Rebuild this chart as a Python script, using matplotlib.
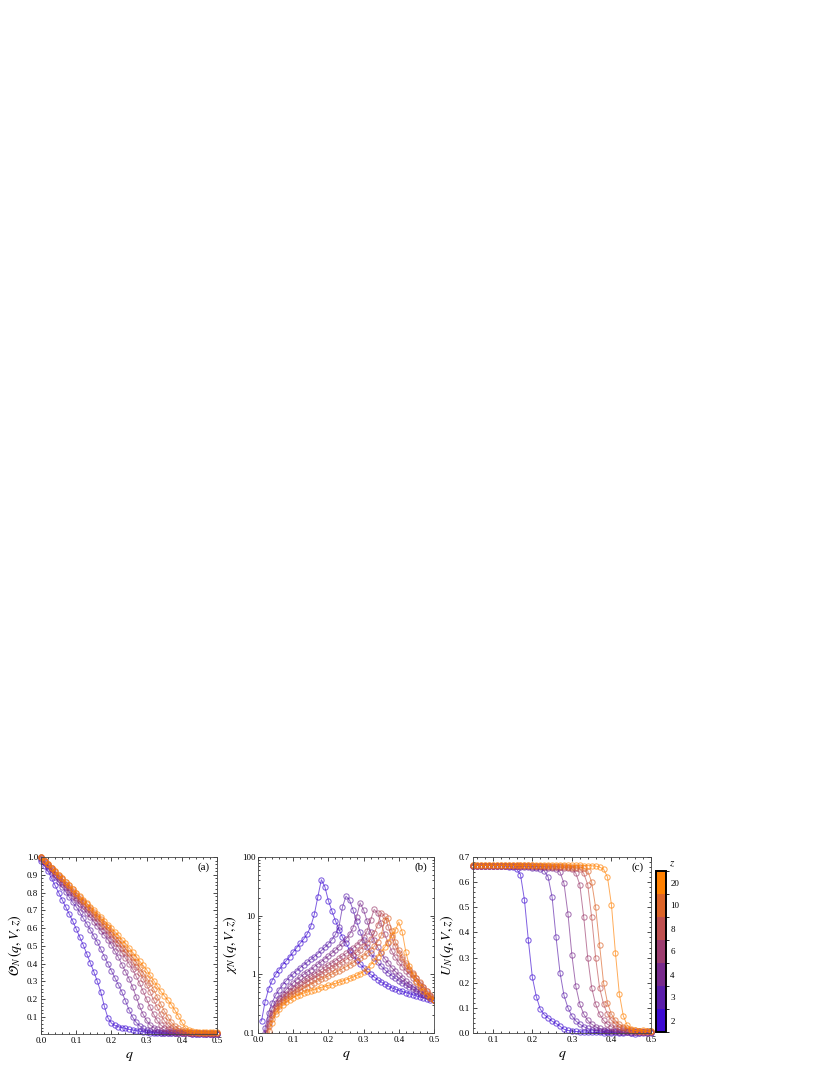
import numpy as np
import matplotlib
matplotlib.use('Agg')
import matplotlib.pyplot as plt
from matplotlib.colors import ListedColormap, BoundaryNorm
from matplotlib.cm import ScalarMappable
from matplotlib.ticker import MultipleLocator, LogLocator, NullFormatter, FixedLocator, FixedFormatter

plt.rcParams['font.family'] = ['Liberation Serif', 'DejaVu Serif']
plt.rcParams['mathtext.fontset'] = 'stix'

z_values = [2, 3, 4, 6, 8, 10, 20]
z_colors = ['#3c0ad2', '#5a1eaa', '#782a8c', '#9c3c6e', '#be5050', '#dc6428', '#ff8000']

# q grids
q_a = [0.00, 0.01, 0.02, 0.03, 0.04, 0.05, 0.06, 0.07, 0.08, 0.09,
       0.10, 0.11, 0.12, 0.13, 0.14, 0.15, 0.16, 0.17, 0.18, 0.19,
       0.20, 0.21, 0.22, 0.23, 0.24, 0.25, 0.26, 0.27, 0.28, 0.29,
       0.30, 0.31, 0.32, 0.33, 0.34, 0.35, 0.36, 0.37, 0.38, 0.39,
       0.40, 0.41, 0.42, 0.43, 0.44, 0.45, 0.46, 0.47, 0.48, 0.49, 0.50]
q_b = q_a[1:]
q_c = q_a[5:]

# (a) order parameter
op_z2 = [0.98, 0.95, 0.92, 0.88, 0.84, 0.80, 0.76, 0.72, 0.68, 0.64,
         0.595, 0.55, 0.505, 0.455, 0.405, 0.355, 0.30, 0.24, 0.16, 0.095,
         0.065, 0.052, 0.045, 0.04, 0.035, 0.03, 0.027, 0.023, 0.02, 0.017,
         0.014, 0.012, 0.011, 0.010, 0.009, 0.009, 0.008, 0.008, 0.008, 0.007,
         0.007, 0.007, 0.007, 0.006, 0.006, 0.006, 0.006, 0.006, 0.005, 0.005, 0.005]
op_z3 = [0.99, 0.965, 0.94, 0.915, 0.885, 0.86, 0.83, 0.805, 0.775, 0.745,
         0.72, 0.69, 0.655, 0.625, 0.59, 0.555, 0.52, 0.48, 0.44, 0.40,
         0.36, 0.32, 0.28, 0.24, 0.19, 0.14, 0.10, 0.07, 0.05, 0.035,
         0.025, 0.02, 0.016, 0.013, 0.011, 0.010, 0.009, 0.009, 0.008, 0.008,
         0.007, 0.007, 0.007, 0.006, 0.006, 0.006, 0.006, 0.005, 0.005, 0.005, 0.005]
op_z4 = [0.995, 0.97, 0.95, 0.925, 0.90, 0.875, 0.85, 0.83, 0.805, 0.78,
         0.76, 0.735, 0.71, 0.685, 0.66, 0.635, 0.61, 0.585, 0.56, 0.535,
         0.505, 0.47, 0.435, 0.395, 0.355, 0.315, 0.27, 0.215, 0.16, 0.115,
         0.08, 0.055, 0.04, 0.03, 0.023, 0.018, 0.015, 0.013, 0.011, 0.010,
         0.009, 0.009, 0.008, 0.008, 0.007, 0.007, 0.007, 0.006, 0.006, 0.006, 0.006]
op_z6 = [1.0, 0.975, 0.955, 0.93, 0.905, 0.885, 0.86, 0.84, 0.815, 0.795,
         0.77, 0.75, 0.725, 0.705, 0.68, 0.66, 0.635, 0.61, 0.59, 0.565,
         0.54, 0.515, 0.49, 0.46, 0.43, 0.40, 0.37, 0.33, 0.29, 0.245,
         0.20, 0.155, 0.115, 0.08, 0.055, 0.04, 0.03, 0.023, 0.018, 0.015,
         0.013, 0.012, 0.011, 0.010, 0.010, 0.009, 0.009, 0.008, 0.008, 0.008, 0.008]
op_z8 = [1.0, 0.98, 0.96, 0.94, 0.915, 0.895, 0.875, 0.85, 0.83, 0.81,
         0.785, 0.765, 0.745, 0.72, 0.70, 0.68, 0.655, 0.635, 0.61, 0.59,
         0.565, 0.54, 0.515, 0.49, 0.465, 0.44, 0.41, 0.38, 0.35, 0.315,
         0.28, 0.24, 0.195, 0.155, 0.115, 0.08, 0.055, 0.04, 0.03, 0.023,
         0.018, 0.015, 0.013, 0.012, 0.011, 0.011, 0.010, 0.010, 0.010, 0.009, 0.009]
op_z10 = [1.0, 0.98, 0.96, 0.94, 0.92, 0.90, 0.88, 0.86, 0.84, 0.82,
          0.795, 0.775, 0.755, 0.735, 0.715, 0.69, 0.67, 0.65, 0.625, 0.605,
          0.58, 0.555, 0.535, 0.51, 0.485, 0.46, 0.435, 0.41, 0.38, 0.35,
          0.32, 0.29, 0.255, 0.215, 0.175, 0.135, 0.10, 0.07, 0.05, 0.035,
          0.027, 0.021, 0.017, 0.015, 0.013, 0.012, 0.012, 0.011, 0.011, 0.010, 0.010]
op_z20 = [1.0, 0.98, 0.96, 0.94, 0.92, 0.90, 0.88, 0.86, 0.84, 0.82,
          0.80, 0.78, 0.76, 0.74, 0.72, 0.70, 0.68, 0.66, 0.64, 0.62,
          0.60, 0.58, 0.56, 0.535, 0.515, 0.49, 0.465, 0.44, 0.415, 0.39,
          0.365, 0.335, 0.305, 0.275, 0.245, 0.22, 0.195, 0.17, 0.14, 0.105,
          0.07, 0.04, 0.025, 0.019, 0.016, 0.015, 0.015, 0.015, 0.015, 0.015, 0.015]

# (b) susceptibility, q = 0.01 .. 0.50
chi_z2 = [0.16, 0.34, 0.56, 0.78, 1.0, 1.2, 1.45, 1.7, 2.0, 2.4,
          2.85, 3.4, 4.0, 4.9, 6.6, 10.5, 21, 41, 31, 18,
          12, 8.2, 5.8, 4.3, 3.4, 2.6, 2.1, 1.75, 1.5, 1.3,
          1.12, 1.0, 0.9, 0.81, 0.74, 0.68, 0.63, 0.59, 0.56, 0.53,
          0.51, 0.49, 0.47, 0.45, 0.43, 0.41, 0.40, 0.385, 0.37, 0.36]
chi_z3 = [0.05, 0.12, 0.22, 0.33, 0.44, 0.55, 0.66, 0.78, 0.9, 1.02,
          1.15, 1.3, 1.45, 1.62, 1.8, 2.0, 2.25, 2.55, 2.9, 3.3,
          3.9, 4.8, 6.5, 14, 21.5, 18.5, 12.5, 8.0, 5.3, 3.8,
          2.9, 2.3, 1.9, 1.6, 1.38, 1.2, 1.06, 0.95, 0.86, 0.78,
          0.71, 0.65, 0.6, 0.56, 0.52, 0.48, 0.45, 0.42, 0.39, 0.37]
chi_z4 = [0.04, 0.10, 0.17, 0.26, 0.33, 0.40, 0.47, 0.55, 0.63, 0.72,
          0.81, 0.90, 1.0, 1.1, 1.2, 1.35, 1.5, 1.65, 1.85, 2.05,
          2.3, 2.6, 2.95, 3.4, 4.0, 4.8, 6.2, 9.5, 16.5, 12.5,
          8.0, 5.3, 3.8, 2.9, 2.3, 1.85, 1.55, 1.3, 1.12, 0.98,
          0.87, 0.77, 0.69, 0.62, 0.56, 0.51, 0.47, 0.43, 0.40, 0.37]
chi_z6 = [0.03, 0.08, 0.15, 0.22, 0.29, 0.35, 0.41, 0.47, 0.53, 0.59,
          0.65, 0.72, 0.79, 0.86, 0.94, 1.02, 1.11, 1.21, 1.32, 1.44,
          1.57, 1.72, 1.88, 2.06, 2.27, 2.5, 2.8, 3.15, 3.6, 4.3,
          5.5, 8.5, 12.8, 11.0, 7.5, 4.8, 3.4, 2.5, 1.95, 1.6,
          1.35, 1.15, 1.0, 0.87, 0.76, 0.66, 0.57, 0.49, 0.42, 0.37]
chi_z8 = [0.03, 0.07, 0.13, 0.20, 0.27, 0.32, 0.37, 0.42, 0.47, 0.52,
          0.57, 0.62, 0.68, 0.74, 0.80, 0.86, 0.93, 1.0, 1.08, 1.17,
          1.27, 1.38, 1.5, 1.63, 1.78, 1.95, 2.15, 2.38, 2.65, 3.0,
          3.4, 4.0, 5.0, 7.0, 11.2, 9.8, 6.5, 4.3, 3.0, 2.3,
          1.8, 1.45, 1.2, 1.0, 0.85, 0.72, 0.61, 0.51, 0.43, 0.37]
chi_z10 = [0.02, 0.06, 0.11, 0.17, 0.24, 0.29, 0.34, 0.38, 0.42, 0.46,
           0.50, 0.54, 0.58, 0.62, 0.67, 0.72, 0.77, 0.82, 0.88, 0.94,
           1.01, 1.08, 1.16, 1.25, 1.35, 1.46, 1.58, 1.72, 1.88, 2.06,
           2.3, 2.6, 3.0, 3.6, 4.6, 8.5, 9.0, 5.5, 3.6, 2.6,
           1.95, 1.55, 1.25, 1.05, 0.88, 0.74, 0.62, 0.52, 0.44, 0.37]
chi_z20 = [0.01, 0.05, 0.09, 0.15, 0.21, 0.26, 0.30, 0.34, 0.37, 0.40,
           0.43, 0.45, 0.48, 0.50, 0.53, 0.55, 0.57, 0.60, 0.62, 0.65,
           0.67, 0.70, 0.73, 0.77, 0.81, 0.85, 0.90, 0.96, 1.03, 1.11,
           1.25, 1.45, 1.7, 2.0, 2.4, 2.9, 3.6, 4.6, 5.6, 7.8,
           5.2, 2.4, 1.4, 0.98, 0.74, 0.60, 0.51, 0.45, 0.40, 0.37]

# (c) Binder cumulant, q = 0.05 .. 0.50
u_z2 = [0.666, 0.666, 0.666, 0.666, 0.666, 0.665, 0.665, 0.665, 0.664, 0.662,
        0.659, 0.652, 0.630, 0.530, 0.368, 0.222, 0.145, 0.095, 0.073, 0.060,
        0.047, 0.038, 0.027, 0.015, 0.010, 0.008, 0.006, 0.005, 0.004, 0.003,
        0.003, 0.002, 0.002, 0.001, 0.002, 0.001, 0.002, 0.001, 0.000, 0.002,
        0.001, -0.002, 0.003, 0.000, 0.002, 0.001]
u_z3 = [0.666, 0.666, 0.666, 0.666, 0.666, 0.666, 0.666, 0.666, 0.665, 0.665,
        0.664, 0.663, 0.662, 0.661, 0.660, 0.658, 0.656, 0.653, 0.645, 0.620,
        0.540, 0.380, 0.240, 0.150, 0.100, 0.068, 0.048, 0.035, 0.025, 0.018,
        0.013, 0.010, 0.008, 0.006, 0.005, 0.004, 0.003, 0.003, 0.002, 0.002,
        0.001, 0.003, 0.000, 0.002, -0.001, 0.002]
u_z4 = [0.666, 0.666, 0.666, 0.666, 0.666, 0.666, 0.666, 0.666, 0.666, 0.666,
        0.665, 0.665, 0.664, 0.664, 0.663, 0.662, 0.661, 0.660, 0.659, 0.658,
        0.657, 0.654, 0.640, 0.595, 0.475, 0.310, 0.185, 0.115, 0.075, 0.050,
        0.035, 0.025, 0.018, 0.013, 0.010, 0.008, 0.006, 0.005, 0.004, 0.003,
        0.002, 0.004, 0.001, 0.003, 0.000, 0.002]
u_z6 = [0.666, 0.666, 0.666, 0.666, 0.666, 0.666, 0.666, 0.666, 0.666, 0.666,
        0.666, 0.666, 0.665, 0.665, 0.664, 0.664, 0.663, 0.663, 0.662, 0.661,
        0.660, 0.660, 0.659, 0.658, 0.657, 0.654, 0.635, 0.590, 0.460, 0.300,
        0.180, 0.115, 0.075, 0.050, 0.035, 0.025, 0.018, 0.013, 0.010, 0.008,
        0.006, 0.004, 0.006, 0.002, 0.004, 0.003]
u_z8 = [0.666, 0.666, 0.666, 0.666, 0.666, 0.666, 0.666, 0.666, 0.666, 0.666,
        0.666, 0.666, 0.666, 0.666, 0.665, 0.665, 0.664, 0.664, 0.663, 0.663,
        0.662, 0.662, 0.661, 0.660, 0.659, 0.658, 0.657, 0.654, 0.635, 0.590,
        0.460, 0.300, 0.180, 0.115, 0.075, 0.050, 0.035, 0.025, 0.018, 0.013,
        0.010, 0.007, 0.009, 0.004, 0.006, 0.004]
u_z10 = [0.667, 0.667, 0.667, 0.667, 0.667, 0.667, 0.667, 0.667, 0.667, 0.667,
         0.667, 0.667, 0.667, 0.667, 0.667, 0.667, 0.666, 0.666, 0.665, 0.665,
         0.664, 0.664, 0.663, 0.663, 0.662, 0.662, 0.661, 0.660, 0.657, 0.645,
         0.600, 0.500, 0.350, 0.200, 0.120, 0.075, 0.050, 0.035, 0.025, 0.018,
         0.013, 0.010, 0.008, 0.009, 0.006, 0.007]
u_z20 = [0.667, 0.667, 0.667, 0.667, 0.667, 0.667, 0.667, 0.667, 0.667, 0.667,
         0.667, 0.667, 0.667, 0.667, 0.667, 0.667, 0.667, 0.667, 0.667, 0.667,
         0.667, 0.667, 0.667, 0.667, 0.667, 0.667, 0.667, 0.667, 0.666, 0.666,
         0.665, 0.664, 0.660, 0.652, 0.620, 0.510, 0.320, 0.155, 0.068, 0.030,
         0.015, 0.010, 0.008, 0.010, 0.007, 0.009]

op_all = [op_z2, op_z3, op_z4, op_z6, op_z8, op_z10, op_z20]
chi_all = [chi_z2, chi_z3, chi_z4, chi_z6, chi_z8, chi_z10, chi_z20]
u_all = [u_z2, u_z3, u_z4, u_z6, u_z8, u_z10, u_z20]
for s in op_all:
    assert len(s) == len(q_a)
for s in chi_all:
    assert len(s) == len(q_b)
for s in u_all:
    assert len(s) == len(q_c)

W, H = 830, 1075
fig = plt.figure(figsize=(W / 100, H / 100), dpi=100)


def box(x0, y0, x1, y1):
    return [x0 / W, 1 - y1 / H, (x1 - x0) / W, (y1 - y0) / H]


ax_a = fig.add_axes(box(41, 857, 217, 1034))
ax_b = fig.add_axes(box(258, 857, 434, 1033))
ax_c = fig.add_axes(box(473, 857, 651, 1033))
cax = fig.add_axes(box(656, 871, 666, 1032))


def style(ax):
    ax.tick_params(which='both', direction='in', top=True, right=True,
                   labelsize=6.5, pad=2, width=0.5)
    ax.tick_params(which='major', length=3)
    ax.tick_params(which='minor', length=1.5)
    for sp in ax.spines.values():
        sp.set_linewidth(0.6)
        sp.set_color('#444444')


def draw(ax, qs, series, clip):
    for ys, c in zip(series, z_colors):
        ax.plot(qs, ys, color=c, alpha=0.65, lw=0.7, marker='o', ms=3.8,
                mfc='none', mec=c, mew=0.75, clip_on=clip)


# (a)
draw(ax_a, q_a, op_all, False)
ax_a.set_xlim(0, 0.5)
ax_a.set_ylim(0.004, 1.0)
ax_a.xaxis.set_major_locator(MultipleLocator(0.1))
ax_a.xaxis.set_minor_locator(MultipleLocator(0.02))
ax_a.yaxis.set_major_locator(FixedLocator([0.1, 0.2, 0.3, 0.4, 0.5, 0.6, 0.7, 0.8, 0.9, 1.0]))
ax_a.yaxis.set_minor_locator(MultipleLocator(0.02))
ax_a.xaxis.set_major_formatter(plt.FormatStrFormatter('%.1f'))
ax_a.yaxis.set_major_formatter(plt.FormatStrFormatter('%.1f'))
ax_a.set_ylabel(r'$\mathcal{O}_N\,(q,V,z)$', fontsize=10, labelpad=2)
ax_a.set_xlabel(r'$q$', fontsize=10, labelpad=4)
ax_a.text(0.96, 0.94, '(a)', transform=ax_a.transAxes, ha='right', va='center', fontsize=8)
style(ax_a)

# (b)
draw(ax_b, q_b, chi_all, True)
ax_b.set_yscale('log')
ax_b.set_xlim(0, 0.5)
ax_b.set_ylim(0.1, 100)
ax_b.xaxis.set_major_locator(MultipleLocator(0.1))
ax_b.xaxis.set_minor_locator(MultipleLocator(0.02))
ax_b.xaxis.set_major_formatter(plt.FormatStrFormatter('%.1f'))
ax_b.yaxis.set_major_locator(FixedLocator([0.1, 1, 10, 100]))
ax_b.yaxis.set_major_formatter(FixedFormatter(['0.1', '1', '10', '100']))
ax_b.yaxis.set_minor_locator(LogLocator(base=10, subs=np.arange(2, 10)))
ax_b.yaxis.set_minor_formatter(NullFormatter())
ax_b.set_ylabel(r'$\chi_N\,(q,V,z)$', fontsize=10, labelpad=2)
ax_b.set_xlabel(r'$q$', fontsize=10, labelpad=4)
ax_b.text(0.96, 0.94, '(b)', transform=ax_b.transAxes, ha='right', va='center', fontsize=8)
style(ax_b)

# (c)
draw(ax_c, q_c, u_all, False)
ax_c.set_xlim(0.05, 0.5)
ax_c.set_ylim(0, 0.7)
ax_c.xaxis.set_major_locator(FixedLocator([0.1, 0.2, 0.3, 0.4, 0.5]))
ax_c.xaxis.set_minor_locator(MultipleLocator(0.02))
ax_c.yaxis.set_major_locator(MultipleLocator(0.1))
ax_c.yaxis.set_minor_locator(MultipleLocator(0.02))
ax_c.xaxis.set_major_formatter(plt.FormatStrFormatter('%.1f'))
ax_c.yaxis.set_major_formatter(plt.FormatStrFormatter('%.1f'))
ax_c.set_ylabel(r'$U_N\,(q,V,z)$', fontsize=10, labelpad=2)
ax_c.set_xlabel(r'$q$', fontsize=10, labelpad=4)
ax_c.text(0.96, 0.94, '(c)', transform=ax_c.transAxes, ha='right', va='center', fontsize=8)
style(ax_c)

# colour bar for z
cmap = ListedColormap(z_colors)
norm = BoundaryNorm(np.arange(len(z_values) + 1), cmap.N)
sm = ScalarMappable(norm=norm, cmap=cmap)
cb = fig.colorbar(sm, cax=cax, ticks=np.arange(len(z_values)) + 0.5)
cb.ax.set_yticklabels([str(z) for z in z_values])
cb.ax.tick_params(length=0, labelsize=6.5, pad=3)
cb.outline.set_linewidth(1.4)
cax.text(1.6, 1.01, r'$z$', transform=cax.transAxes, ha='center', va='bottom', fontsize=8)

fig.savefig('out.png', dpi=100)
